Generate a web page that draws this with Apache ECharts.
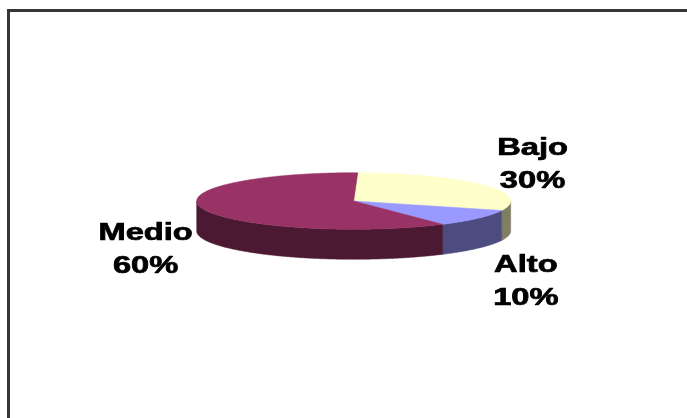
<!DOCTYPE html>
<html>
<head>
<meta charset="utf-8">
<script src="https://cdn.jsdelivr.net/npm/echarts@6/dist/echarts.min.js"></script>
<style>
html,body{margin:0;padding:0;background:#fff;}
#main{width:687px;height:418px;}
</style>
</head>
<body>
<div id="main"></div>
<script>
// slices, clockwise from the top
var sliceNames = ['Bajo', 'Alto', 'Medio'];
var sliceValues = [30, 10, 60];
var topColors = ['#FFFFCC', '#9999FF', '#993366'];
var sideColors = ['#807F66', '#4C4C80', '#4C1933'];

var CX = 353.7, CY = 201, RX = 157, RY = 28.3, DEPTH = 30;
var START = 1.5 * Math.PI / 180;

var total = 0;
for (var i = 0; i < sliceValues.length; i++) total += sliceValues[i];
var startAngles = [], acc = 0;
for (var i = 0; i < sliceValues.length; i++) {
    startAngles.push(START + acc / total * Math.PI * 2);
    acc += sliceValues[i];
}

function ept(a, dy) {
    return [CX + RX * Math.sin(a), CY + (dy || 0) - RY * Math.cos(a)];
}
function arc(a0, a1, dy) {
    var pts = [], n = Math.max(2, Math.ceil(Math.abs(a1 - a0) / 0.01));
    for (var k = 0; k <= n; k++) pts.push(ept(a0 + (a1 - a0) * k / n, dy));
    return pts;
}

function renderItem(params, api) {
    var idx = params.dataIndex;
    var v = api.value(0);
    var a0 = startAngles[idx];
    var a1 = a0 + v / total * Math.PI * 2;
    var children = [];

    // outer wall, only the front half (90..270 deg) shows
    var s = Math.max(a0, Math.PI / 2), e = Math.min(a1, Math.PI * 1.5);
    if (e > s) {
        var pts = arc(s, e, 0).concat(arc(e, s, DEPTH));
        children.push({
            type: 'polygon', z2: 1,
            shape: { points: pts },
            style: { fill: sideColors[idx], stroke: sideColors[idx], lineWidth: 0.5 }
        });
    }
    // top face
    children.push({
        type: 'polygon', z2: 2,
        shape: { points: [[CX, CY]].concat(arc(a0, a1, 0)) },
        style: { fill: topColors[idx], stroke: topColors[idx], lineWidth: 0.5 }
    });
    // label
    var m = (a0 + a1) / 2;
    children.push({
        type: 'text', z2: 3,
        x: CX + 217 * Math.sin(m),
        y: CY + 20.5 - 99.5 * Math.cos(m),
        scaleX: 1.42,
        style: {
            text: sliceNames[idx] + '\n' + Math.round(v / total * 100) + '%',
            x: 0, y: 0,
            align: 'center', verticalAlign: 'middle',
            fontFamily: 'Liberation Sans, Arial, sans-serif',
            fontWeight: 'bold', fontSize: 23, lineHeight: 33,
            fill: '#000', stroke: '#000', lineWidth: 0.7
        }
    });
    return { type: 'group', children: children };
}

var myChart = echarts.init(document.getElementById('main'));
var option = {
    animation: false,
    backgroundColor: '#fff',
    graphic: [{
        type: 'rect', z: -1,
        shape: { x: 8.5, y: 10.5, width: 720, height: 440 },
        style: { fill: 'none', stroke: '#363636', lineWidth: 3 }
    }],
    series: [{
        type: 'custom',
        coordinateSystem: 'none',
        renderItem: renderItem,
        data: sliceValues.map(function (v) { return [v]; })
    }]
};
myChart.setOption(option);
</script>
</body>
</html>
